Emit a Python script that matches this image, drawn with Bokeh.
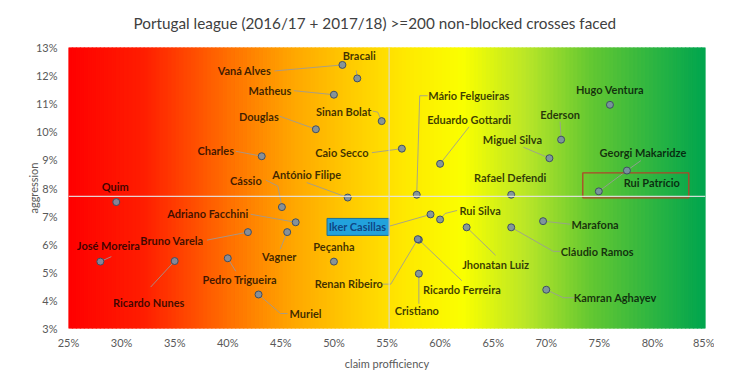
from bokeh.plotting import figure
from bokeh.models import ColumnDataSource, Span, FixedTicker
from bokeh.core.properties import value
from bokeh.embed import file_html
from bokeh.resources import INLINE

# ---------------- data ----------------
names = ["Bracali", "Vaná Alves", "Matheus", "Sinan Bolat", "Douglas", "Charles",
         "Caio Secco", "António Filipe", "Cássio", "Quim", "Adriano Facchini", "Vagner",
         "Bruno Varela", "José Moreira", "Ricardo Nunes", "Pedro Trigueira", "Muriel",
         "Peçanha", "Iker Casillas", "Rui Silva", "Jhonatan Luiz", "Rafael Defendi",
         "Cláudio Ramos", "Marafona", "Kamran Aghayev", "Ricardo Ferreira", "Renan Ribeiro",
         "Cristiano", "Mário Felgueiras", "Eduardo Gottardi", "Ederson", "Hugo Ventura",
         "Miguel Silva", "Georgi Makaridze", "Rui Patrício"]
claim_proficiency = [52.2, 50.8, 50.0, 54.5, 48.3, 43.2,
                     56.4, 51.3, 45.1, 29.5, 46.4, 45.6,
                     41.9, 28.0, 35.0, 40.0, 42.9,
                     50.0, 59.1, 60.0, 62.5, 66.7,
                     66.7, 69.7, 70.0, 58.0, 57.9,
                     58.0, 57.8, 60.0, 71.4, 76.0,
                     70.3, 77.6, 74.95]
aggression = [11.90, 12.38, 11.32, 10.38, 10.09, 9.13,
              9.40, 7.66, 7.32, 7.50, 6.78, 6.43,
              6.43, 5.38, 5.40, 5.50, 4.21,
              5.38, 7.06, 6.88, 6.60, 7.76,
              6.60, 6.82, 4.38, 6.16, 6.18,
              4.95, 7.76, 8.86, 9.72, 10.96,
              9.06, 8.62, 7.88]
avg_claim = 55.2
avg_aggression = 7.7

x_ticks = [25, 30, 35, 40, 45, 50, 55, 60, 65, 70, 75, 80, 85]
x_tick_labels = ["25%", "30%", "35%", "40%", "45%", "50%", "55%", "60%", "65%", "70%", "75%", "80%", "85%"]
y_ticks = [3, 4, 5, 6, 7, 8, 9, 10, 11, 12, 13]
y_tick_labels = ["3%", "4%", "5%", "6%", "7%", "8%", "9%", "10%", "11%", "12%", "13%"]

# ---------------- layout (screen-pixel offsets of labels / leader lines) ----------------
label_offset = {
    "Bracali": (2, -23), "Vaná Alves": (-98, 6), "Matheus": (-64, -4), "Sinan Bolat": (-38, -10),
    "Douglas": (-57, -13), "Charles": (-46, -6), "Caio Secco": (-60, 4), "António Filipe": (-41, -23),
    "Cássio": (-36, -27), "Quim": (-1, -16), "Adriano Facchini": (-88, -9), "Vagner": (-8, 24),
    "Bruno Varela": (-76, 8), "José Moreira": (8, -16), "Ricardo Nunes": (-26, 41),
    "Pedro Trigueira": (12, 21), "Muriel": (47, 19), "Peçanha": (0, -15), "Iker Casillas": (-73, 12),
    "Rui Silva": (40, -9), "Jhonatan Luiz": (29, 37), "Rafael Defendi": (-1, -17),
    "Cláudio Ramos": (86, 24), "Marafona": (52, 3), "Kamran Aghayev": (69, 8),
    "Ricardo Ferreira": (43, 50), "Renan Ribeiro": (-69, 44), "Cristiano": (-2, 37),
    "Mário Felgueiras": (52, -99), "Eduardo Gottardi": (29, -44), "Ederson": (-1, -25),
    "Hugo Ventura": (0, -15), "Miguel Silva": (-37, -19), "Georgi Makaridze": (16, -18),
    "Rui Patrício": (53, -9),
}
leaders = {
    "Bracali": [(-1, -8)], "Vaná Alves": [(-68, 6)], "Matheus": [(-40, -4)],
    "Sinan Bolat": [(-9, -10), (-4, -9)], "Douglas": [(-36, -13)], "Charles": [(-26, -5)],
    "Caio Secco": [(-30, 4)], "António Filipe": [(-41, -15)],
    "Cássio": [(-16, -27), (-4, -21)], "Adriano Facchini": [(-45, -8)], "Vagner": [(-7, 17)],
    "Bruno Varela": [(-41, 8)], "José Moreira": [(11, -5)], "Ricardo Nunes": [(-24, 26)],
    "Pedro Trigueira": [(8, 13)], "Muriel": [(29, 19), (22, 19)], "Iker Casillas": [(-42, 12)],
    "Rui Silva": [(17, -9), (5, -6)], "Jhonatan Luiz": [(29, 28)],
    "Cláudio Ramos": [(49, 24), (42, 24)], "Marafona": [(27, 3)],
    "Kamran Aghayev": [(28, 8), (17, 8)], "Ricardo Ferreira": [(43, 41)],
    "Renan Ribeiro": [(-35, 45), (-27, 45)], "Cristiano": [(0, 30)],
    "Mário Felgueiras": [(11, -99), (3, -99)], "Eduardo Gottardi": [(29, -37)],
    "Ederson": [(-1, -18)], "Miguel Silva": [(-26, -11)], "Georgi Makaridze": [(14, -10)],
    "Rui Patrício": [(27, -20)],
}

X0, X1, Y0, Y1 = 25, 85, 3, 13
FW, FH = 637, 281
sx = (X1 - X0) / FW
sy = (Y1 - Y0) / FH

p = figure(width=714, height=371, frame_width=FW, frame_height=FH,
           x_range=(X0, X1), y_range=(Y0, Y1),
           output_backend="svg", toolbar_location=None,
           min_border_left=68, min_border_right=9, min_border_top=46, min_border_bottom=44,
           title="Portugal league (2016/17 + 2017/18) >=200 non-blocked crosses faced")
p.title.align = "left"
p.title.vertical_align = "top"
p.title.text_font = "Lato"
p.title.text_font_size = "15.3px"
p.title.text_font_style = "normal"
p.title.text_color = "#404040"
p.title.standoff = 27
p.title.offset = 65
p.outline_line_color = None
p.grid.visible = False
p.background_fill_color = "white"

# background gradient (red -> orange -> yellow -> green)
stops = [(0.00, (255, 0, 0)), (0.12, (255, 30, 0)), (0.25, (255, 110, 0)),
         (0.35, (255, 165, 0)), (0.45, (255, 205, 0)), (0.52, (255, 230, 0)),
         (0.62, (250, 255, 0)), (0.72, (185, 230, 40)), (0.82, (100, 200, 50)),
         (1.00, (0, 165, 78))]

def interp(t):
    for (t0, c0), (t1, c1) in zip(stops[:-1], stops[1:]):
        if t0 <= t <= t1:
            f = (t - t0) / (t1 - t0)
            return "#%02x%02x%02x" % tuple(int(round(a + (b - a) * f)) for a, b in zip(c0, c1))
    return "#%02x%02x%02x" % stops[-1][1]

N = 160
lefts = [X0 + (X1 - X0) * i / N for i in range(N)]
rights = [X0 + (X1 - X0) * (i + 1) / N for i in range(N)]
cols = [interp((i + 0.5) / N) for i in range(N)]
p.quad(left=lefts, right=rights, bottom=Y0, top=Y1, fill_color=cols, line_color=cols, line_width=1.5)

# average lines
p.add_layout(Span(location=avg_aggression, dimension="width", line_color="#e6e6e6", line_width=1.2, line_alpha=0.9))
p.add_layout(Span(location=avg_claim, dimension="height", line_color="#d9d9d9", line_width=1.2, line_alpha=0.9))

# leader lines
lx, ly = [], []
for n, xv, yv in zip(names, claim_proficiency, aggression):
    if n in leaders:
        pts = leaders[n] + [(0, 0)]
        lx.append([xv + dx * sx for dx, dy in pts])
        ly.append([yv - dy * sy for dx, dy in pts])
p.multi_line(lx, ly, line_color="#9a9a9a", line_alpha=0.85, line_width=1)

# boxes for highlighted keepers
ik = names.index("Iker Casillas")
p.rect(x=[claim_proficiency[ik] + (-72.5) * sx], y=[aggression[ik] - 12.5 * sy],
       width=62, height=17, width_units="screen", height_units="screen",
       fill_color="#22a2dc", line_color="#1b6f96", line_width=1)
rp = names.index("Rui Patrício")
p.rect(x=[claim_proficiency[rp] + 37 * sx], y=[aggression[rp] + 6 * sy],
       width=106, height=25, width_units="screen", height_units="screen",
       fill_color=None, line_color="#b0452a", line_width=1.3)

# points
src = ColumnDataSource(dict(x=claim_proficiency, y=aggression, name=names,
                            xo=[label_offset[n][0] for n in names],
                            yo=[label_offset[n][1] for n in names],
                            tc=["#0d3a78" if n == "Iker Casillas" else "#000000" for n in names],
                            ta=[0.9 if n == "Iker Casillas" else 0.76 for n in names]))
p.scatter("x", "y", source=src, size=7, fill_color="#7b8fa6", line_color="#3f4f63",
          line_width=1, fill_alpha=0.9)

p.text("x", "y", text="name", source=src, x_offset="xo", y_offset="yo",
       text_font=value("Lato"), text_font_style="bold", text_font_size="11px",
       text_color="tc", text_alpha="ta", text_align="center", text_baseline="middle")

# axes
for ax in (p.xaxis[0], p.yaxis[0]):
    ax.axis_line_color = None
    ax.major_tick_line_color = None
    ax.minor_tick_line_color = None
    ax.major_tick_out = 0
    ax.major_tick_in = 0
    ax.minor_tick_out = 0
    ax.minor_tick_in = 0
    ax.major_label_text_font = "Lato"
    ax.major_label_text_font_size = "11px"
    ax.major_label_text_color = "#595959"
    ax.axis_label_text_font = "Lato"
    ax.axis_label_text_font_size = "11px"
    ax.axis_label_text_font_style = "normal"
    ax.axis_label_text_color = "#595959"

p.xaxis.ticker = FixedTicker(ticks=x_ticks)
p.xaxis.major_label_overrides = dict(zip(x_ticks, x_tick_labels))
p.yaxis.ticker = FixedTicker(ticks=y_ticks)
p.yaxis.major_label_overrides = dict(zip(y_ticks, y_tick_labels))
p.xaxis.axis_label = "claim profficiency"
p.yaxis.axis_label = "aggression"
p.xaxis.major_label_standoff = 7
p.yaxis.major_label_standoff = 11
p.xaxis.axis_label_standoff = 5
p.yaxis.axis_label_standoff = -7

open("out.html", "w").write(file_html(p, INLINE))
